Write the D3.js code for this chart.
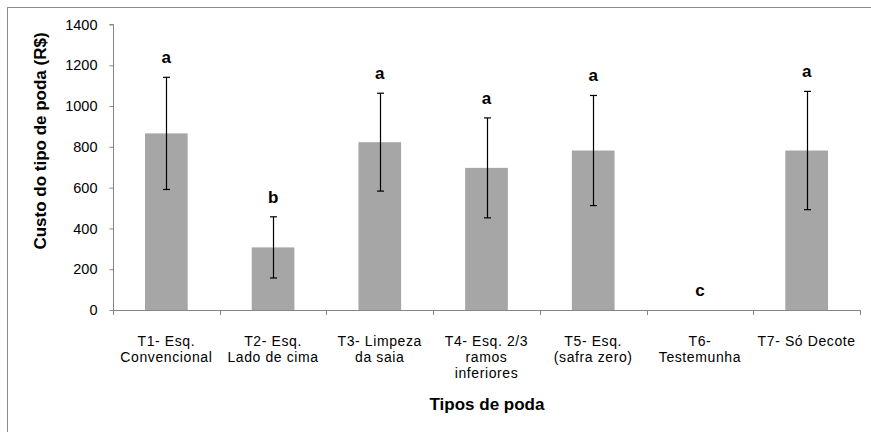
<!DOCTYPE html>
<html>
<head>
<meta charset="utf-8">
<script src="https://cdn.jsdelivr.net/npm/d3@7"></script>
<style>
  html, body { margin: 0; padding: 0; background: #fff; }
  svg { display: block; }
  text { font-family: "Liberation Sans", Arial, sans-serif; }
</style>
</head>
<body>
<svg id="chart" width="871" height="432"></svg>
<script>
// ---- data ----
const categories = ["T1", "T2", "T3", "T4", "T5", "T6", "T7"];
const categoryLabels = [
  ["T1- Esq.", "Convencional"],
  ["T2- Esq.", "Lado de cima"],
  ["T3- Limpeza", "da saia"],
  ["T4- Esq. 2/3", "ramos", "inferiores"],
  ["T5- Esq.", "(safra zero)"],
  ["T6-", "Testemunha"],
  ["T7- Só Decote"]
];
const costValues = [866, 307, 823, 697, 782, 0, 782];
const errorValues = [275, 150, 240, 245, 270, 0, 290];
const groupLetters = ["a", "b", "a", "a", "a", "c", "a"];
const yTicks = [0, 200, 400, 600, 800, 1000, 1200, 1400];
const yTitle = "Custo do tipo de poda (R$)";
const xTitle = "Tipos de poda";

// ---- layout ----
const svg = d3.select("#chart");
const plotLeft = 113, plotRight = 860, plotTop = 24.5, plotBottom = 310;
const axisColor = "#868686";

// frame
svg.append("rect")
  .attr("x", 7.5).attr("y", 7.5)
  .attr("width", 880).attr("height", 440)
  .attr("fill", "none").attr("stroke", "#8c8c8c").attr("stroke-width", 1);

const x = d3.scaleBand().domain(categories).range([plotLeft, plotRight])
  .paddingInner(0.6).paddingOuter(0.3);
const y = d3.scaleLinear().domain([0, 1400]).range([plotBottom, plotTop]);

// y axis
const yAxis = svg.append("g").attr("transform", `translate(${plotLeft + 0.5},0)`)
  .call(d3.axisLeft(y).tickValues(yTicks).tickSize(4).tickPadding(12).tickFormat(d3.format("d")));
yAxis.select(".domain").attr("stroke", axisColor).attr("d", `M-4,${y(1400)}H0V${plotBottom}`);
yAxis.selectAll(".tick line").attr("stroke", axisColor);
yAxis.selectAll(".tick text").attr("font-size", "14.5px").attr("fill", "#000")
  .attr("font-family", "Liberation Sans, Arial, sans-serif");

// x axis line + ticks at band boundaries
const step = x.step();
const xg = svg.append("g");
xg.append("line").attr("x1", plotLeft).attr("x2", plotRight)
  .attr("y1", plotBottom + 0.5).attr("y2", plotBottom + 0.5).attr("stroke", axisColor);
const boundaries = d3.range(categories.length + 1).map(i => plotLeft + i * step);
xg.selectAll("line.xt").data(boundaries).enter().append("line")
  .attr("class", "xt")
  .attr("x1", d => Math.round(d) + 0.5).attr("x2", d => Math.round(d) + 0.5)
  .attr("y1", plotBottom).attr("y2", plotBottom + 5).attr("stroke", axisColor);

// bars
svg.append("g").selectAll("rect").data(categories).enter().append("rect")
  .attr("x", d => x(d))
  .attr("width", x.bandwidth())
  .attr("y", (d, i) => y(costValues[i]))
  .attr("height", (d, i) => plotBottom - y(costValues[i]))
  .attr("fill", "#a6a6a6");

// error bars
const eg = svg.append("g").attr("stroke", "#000").attr("stroke-width", 1.2);
categories.forEach((c, i) => {
  if (errorValues[i] <= 0) return;
  const cx = Math.round(x(c) + x.bandwidth() / 2) + 0.5;
  const yt = y(costValues[i] + errorValues[i]);
  const yb = y(costValues[i] - errorValues[i]);
  eg.append("line").attr("x1", cx).attr("x2", cx).attr("y1", yt).attr("y2", yb);
  eg.append("line").attr("x1", cx - 3.5).attr("x2", cx + 3.5).attr("y1", yt).attr("y2", yt);
  eg.append("line").attr("x1", cx - 3.5).attr("x2", cx + 3.5).attr("y1", yb).attr("y2", yb);
});

// letters
svg.append("g").selectAll("text").data(categories).enter().append("text")
  .attr("x", d => x(d) + x.bandwidth() / 2)
  .attr("y", (d, i) => y(costValues[i] + errorValues[i]) - 14)
  .attr("text-anchor", "middle")
  .attr("font-size", "17px").attr("font-weight", "bold")
  .text((d, i) => groupLetters[i]);

// category labels
const lg = svg.append("g");
categories.forEach((c, i) => {
  const t = lg.append("text")
    .attr("x", x(c) + x.bandwidth() / 2)
    .attr("y", 346)
    .attr("text-anchor", "middle")
    .attr("font-size", "14px")
    .attr("letter-spacing", "0.6px");
  categoryLabels[i].forEach((line, k) => {
    t.append("tspan").attr("x", x(c) + x.bandwidth() / 2)
      .attr("dy", k === 0 ? 0 : 16).text(line);
  });
});

// titles
svg.append("text")
  .attr("transform", "translate(46,141) rotate(-90)")
  .attr("text-anchor", "middle")
  .attr("font-size", "17px").attr("font-weight", "bold")
  .text(yTitle);

svg.append("text")
  .attr("x", 487).attr("y", 410)
  .attr("text-anchor", "middle")
  .attr("font-size", "17px").attr("font-weight", "bold")
  .text(xTitle);
</script>
</body>
</html>
